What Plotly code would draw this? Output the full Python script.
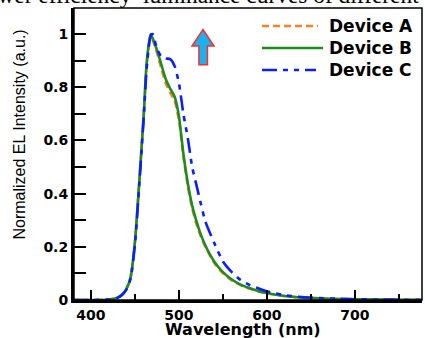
import plotly.graph_objects as go

# ---- data ----
wavelength = [380, 400, 420, 430, 435, 440, 445, 450, 455, 460, 463, 466, 468, 470,
              475, 480, 485, 490, 495, 500, 505, 510, 515, 520, 525, 530, 540, 550,
              560, 570, 580, 590, 600, 620, 640, 660, 680, 700, 720, 750, 780]

device_a = [0, 0, 0.002, 0.009, 0.02, 0.04, 0.085, 0.22, 0.45, 0.70, 0.87, 0.965, 1.0, 0.98,
            0.93, 0.87, 0.815, 0.78, 0.75, 0.675, 0.54, 0.43, 0.345, 0.285, 0.238, 0.2, 0.14, 0.1,
            0.074, 0.056, 0.043, 0.033, 0.025, 0.015, 0.009, 0.006, 0.004, 0.003, 0.002, 0.001, 0.001]

device_b = [0, 0, 0.002, 0.009, 0.02, 0.04, 0.085, 0.22, 0.45, 0.70, 0.88, 0.97, 1.0, 0.985,
            0.94, 0.885, 0.83, 0.795, 0.765, 0.69, 0.55, 0.44, 0.355, 0.295, 0.245, 0.205, 0.145, 0.105,
            0.077, 0.058, 0.045, 0.034, 0.026, 0.015, 0.009, 0.006, 0.004, 0.003, 0.002, 0.001, 0.001]

device_c = [0, 0, 0.002, 0.008, 0.018, 0.038, 0.08, 0.21, 0.44, 0.69, 0.86, 0.96, 0.995, 1.0,
            0.945, 0.915, 0.908, 0.906, 0.88, 0.815, 0.70, 0.61, 0.50, 0.43, 0.36, 0.295, 0.215, 0.145,
            0.105, 0.075, 0.057, 0.044, 0.032, 0.018, 0.011, 0.007, 0.005, 0.003, 0.002, 0.001, 0.001]

series_names = ["Device A", "Device B", "Device C"]
x_ticks = [400, 500, 600, 700]
y_ticks = [0, 0.2, 0.4, 0.6, 0.8, 1]

# ---- styling ----
colors = ["#FF7F27", "#1E8C1E", "#0A1EFF"]
dashes = ["7px,4px", "solid", "15px,6px,5px,6px,5px,6px"]
bold_font = "DejaVu Sans"

W, H = 425, 338
L, R, T, B = 74, 3, 8, 38
pw, ph = W - L - R, H - T - B


def px2paper(px, py):
    return (px - L) / pw, (H - B - py) / ph


fig = go.Figure()
for name, vals, col, dash in zip(series_names, [device_a, device_b, device_c], colors, dashes):
    fig.add_trace(go.Scatter(
        x=wavelength, y=vals, name=name, mode="lines",
        line=dict(color=col, width=2.6, dash=dash, shape="spline", smoothing=0.6),
        showlegend=False,
    ))

axis_common = dict(
    showline=True, linewidth=3, linecolor="black",
    showgrid=False, zeroline=False,
    ticks="inside", tickwidth=2, tickcolor="black",
    tickfont=dict(family=bold_font, size=14, color="black", weight="bold"),
)

fig.update_layout(
    width=W, height=H,
    margin=dict(l=L, r=R, t=T, b=B, pad=0),
    paper_bgcolor="white", plot_bgcolor="white",
    xaxis=dict(range=[380.7, 776.2], tickvals=x_ticks, ticklen=10,
               minor=dict(dtick=50, ticklen=6, tickwidth=2, tickcolor="black", ticks="inside"),
               **axis_common),
    yaxis=dict(range=[0, 1.098], tickvals=y_ticks, ticklen=12,
               minor=dict(dtick=0.1, ticklen=12, tickwidth=2, tickcolor="black", ticks="inside"),
               **axis_common),
)

# frame (thin top / right borders)
fig.add_shape(type="rect", xref="paper", yref="paper", x0=0, y0=0, x1=1, y1=1,
              line=dict(color="black", width=1.5), layer="above")

# custom legend
legend_rows = [(26, 318), (48, 323), (70, 316)]
for (ry, xend), name, col, dash in zip(legend_rows, series_names, colors, dashes):
    x0p, yp = px2paper(262, ry)
    x1p, _ = px2paper(xend, ry)
    fig.add_shape(type="line", xref="paper", yref="paper", x0=x0p, x1=x1p, y0=yp, y1=yp,
                  line=dict(color=col, width=2.6, dash=dash))
    tx, _ = px2paper(327, ry)
    fig.add_annotation(xref="paper", yref="paper", x=tx, y=yp, xanchor="left", yanchor="middle",
                       text=name, showarrow=False,
                       font=dict(family=bold_font, size=17, color="black", weight="bold"))

# arrow decoration (blue with red outline)
ax_tip, ax_hl, ax_hr, ax_sl, ax_sr = 527.3, 514.8, 539.8, 522.7, 532.4
ay_tip, ay_head, ay_bot = 1.017, 0.955, 0.885
path = (f"M {ax_tip},{ay_tip} L {ax_hr},{ay_head} L {ax_sr},{ay_head} L {ax_sr},{ay_bot} "
        f"L {ax_sl},{ay_bot} L {ax_sl},{ay_head} L {ax_hl},{ay_head} Z")
fig.add_shape(type="path", xref="x", yref="y", path=path,
              fillcolor="#1AB2EE", line=dict(color="#FF2A2A", width=1.5), layer="above")

# axis titles
xt, yt = px2paper(242.5, 329.5)
fig.add_annotation(xref="paper", yref="paper", x=xt, y=yt, xanchor="center", yanchor="middle",
                   text="Wavelength (nm)", showarrow=False,
                   font=dict(family=bold_font, size=16, color="black", weight="bold"))
xt, yt = px2paper(18.5, 135)
fig.add_annotation(xref="paper", yref="paper", x=xt, y=yt, xanchor="center", yanchor="middle",
                   text="Normalized EL Intensity (a.u.)", textangle=-90, showarrow=False,
                   font=dict(family="Liberation Sans", size=16, color="black"))

# clipped caption text at the very top
xt, yt = px2paper(421, -5.3)
fig.add_annotation(xref="paper", yref="paper", x=xt, y=yt, xanchor="right", yanchor="middle",
                   text="power efficiency–luminance curves of different", showarrow=False,
                   font=dict(family="Liberation Serif", size=23.4, color="black"))

fig.write_html("out.html")
